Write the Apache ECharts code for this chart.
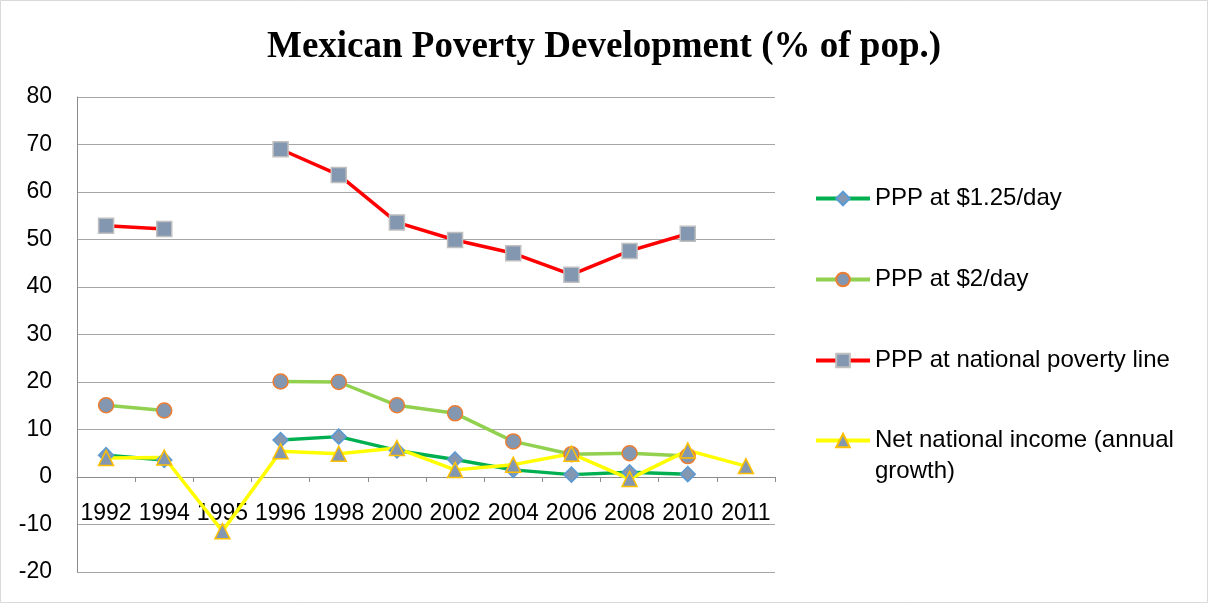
<!DOCTYPE html>
<html>
<head>
<meta charset="utf-8">
<script src="https://cdn.jsdelivr.net/npm/echarts@6/dist/echarts.min.js"></script>
<style>
  html, body { margin: 0; padding: 0; background: #ffffff; }
  #chart { width: 1208px; height: 603px; }
</style>
</head>
<body>
<div id="chart"></div>
<script>
// Survey years on the category axis
const years = ['1992', '1994', '1995', '1996', '1998', '2000', '2002', '2004', '2006', '2008', '2010', '2011'];

// Poverty headcount ratios (% of population); null where no survey exists
const ppp125 = [4.6, 3.6, null, 7.8, 8.5, 5.6, 3.7, 1.5, 0.5, 1.0, 0.6, null];
const ppp2 = [15.1, 14.0, null, 20.1, 20.0, 15.1, 13.4, 7.5, 4.8, 5.0, 4.4, null];
const pppNational = [52.9, 52.2, null, 69.0, 63.6, 53.6, 49.9, 47.1, 42.6, 47.6, 51.2, null];

// Net national income, annual growth (%)
const nniGrowth = [4.0, 4.1, -11.4, 5.4, 4.9, 6.1, 1.5, 2.6, 4.9, -0.4, 5.6, 2.3];

// Axis ticks
const yMin = -20, yMax = 80, yStep = 10;

const seriesNames = [
  'PPP at $1.25/day',
  'PPP at $2/day',
  'PPP at national poverty line',
  'Net national income (annual\ngrowth)'
];

const markerFill = '#8497B0';
const labelFont = 'Liberation Sans';

function lineSeries(name, data, color, symbol, size, border) {
  return {
    name: name,
    type: 'line',
    data: data,
    connectNulls: false,
    symbol: symbol,
    symbolSize: size,
    showAllSymbol: true,
    lineStyle: { color: color, width: 3.5 },
    itemStyle: { color: markerFill, borderColor: border, borderWidth: 1.5 },
    emphasis: { disabled: true },
    animation: false
  };
}

const legendBase = {
  orient: 'vertical',
  left: 809,
  itemWidth: 54,
  itemHeight: 17,
  selectedMode: false,
  lineStyle: { width: 4 },
  textStyle: { fontFamily: labelFont, fontSize: 24, lineHeight: 31, color: '#000000' }
};

const chart = echarts.init(document.getElementById('chart'), null, { renderer: 'canvas' });

chart.setOption({
  backgroundColor: '#ffffff',
  animation: false,
  title: {
    text: 'Mexican Poverty Development (% of pop.)',
    left: 'center',
    top: 24,
    textStyle: {
      fontFamily: 'Liberation Serif',
      fontWeight: 'bold',
      fontSize: 37,
      color: '#000000'
    }
  },
  legend: [
    Object.assign({}, legendBase, {
      top: 178,
      itemGap: 50,
      data: [seriesNames[0], seriesNames[1], seriesNames[2]]
    }),
    // the wrapped label starts on the line of its key, so a blank first line centres it there
    Object.assign({}, legendBase, {
      top: 389,
      formatter: function (name) { return '\n' + name; },
      data: [seriesNames[3]]
    })
  ],
  grid: {
    left: 77,
    right: 433,
    top: 97,
    bottom: 31,
    containLabel: false,
    outerBoundsMode: 'none'
  },
  xAxis: {
    type: 'category',
    data: years,
    boundaryGap: true,
    axisLine: { onZero: true, lineStyle: { color: '#8C8C8C', width: 1 } },
    axisTick: { show: true, length: 5, lineStyle: { color: '#8C8C8C' } },
    // year labels sit just under the zero line rather than under the plot
    axisLabel: { fontFamily: labelFont, fontSize: 23, color: '#000000', margin: -70, interval: 0 },
    splitLine: { show: false }
  },
  yAxis: {
    type: 'value',
    min: yMin,
    max: yMax,
    interval: yStep,
    axisLine: { show: true, lineStyle: { color: '#8C8C8C', width: 1 } },
    axisTick: { show: false },
    axisLabel: { fontFamily: labelFont, fontSize: 23, color: '#000000', margin: 25 },
    splitLine: { show: true, lineStyle: { color: '#A6A6A6', width: 1 } }
  },
  graphic: [
    {
      type: 'rect',
      shape: { x: 0.5, y: 0.5, width: 1207, height: 602 },
      style: { fill: 'none', stroke: '#D9D9D9', lineWidth: 1 },
      silent: true,
      z: 100
    }
  ],
  series: [
    lineSeries(seriesNames[0], ppp125, '#00B050', 'diamond', 15, '#5B9BD5'),
    lineSeries(seriesNames[1], ppp2, '#92D050', 'circle', 15, '#ED7D31'),
    lineSeries(seriesNames[2], pppNational, '#FF0000', 'rect', 15, '#BFBFBF'),
    lineSeries(seriesNames[3], nniGrowth, '#FFFF00', 'triangle', 15, '#FFC000')
  ]
});
</script>
</body>
</html>
